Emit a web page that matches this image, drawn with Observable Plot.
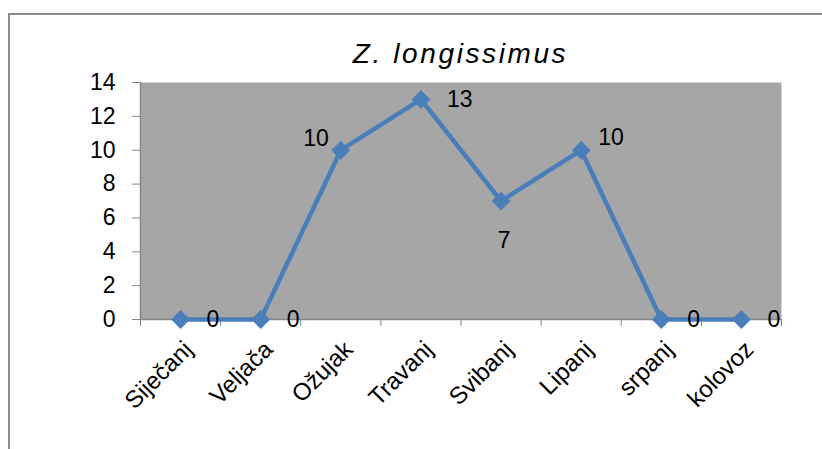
<!DOCTYPE html>
<html><head><meta charset="utf-8">
<script src="https://cdn.jsdelivr.net/npm/d3@7"></script>
<script src="https://cdn.jsdelivr.net/npm/@observablehq/plot@0.6"></script>
<style>
body{margin:0;background:#fff;}
#wrap{position:relative;width:822px;height:449px;overflow:hidden;background:#fff;}
#chart{position:absolute;left:0;top:0;}
#frame{position:absolute;left:8px;top:13px;width:900px;height:500px;border-top:2px solid #8c8c8c;border-left:2px solid #8c8c8c;pointer-events:none;}
#title{position:absolute;left:140px;width:641px;top:38px;line-height:28px;text-align:center;font:italic 28px "Liberation Sans",Arial,sans-serif;letter-spacing:2.6px;color:#000;}
</style></head><body>
<div id="wrap"><div id="chart"></div><div id="frame"></div><div id="title">Z. longissimus</div></div>
<script>
const months = ["Siječanj","Veljača","Ožujak","Travanj","Svibanj","Lipanj","srpanj","kolovoz"];
const counts = [0, 0, 10, 13, 7, 10, 0, 0];
const yTicks = [0, 2, 4, 6, 8, 10, 12, 14];

const data = months.map((m, i) => ({month: m, pos: i + 0.5, count: counts[i]}));
const blue = "#4a7ebb";
const axisGrey = "#868686";

const chart = Plot.plot({
  width: 822, height: 449,
  marginLeft: 140, marginRight: 41, marginTop: 82, marginBottom: 130,
  style: {background: "transparent", fontFamily: '"Liberation Sans", Arial, sans-serif', fontSize: "23px", color: "#000", overflow: "visible"},
  x: {type: "linear", domain: [0, months.length]},
  y: {domain: [0, 14]},
  marks: [
    Plot.frame({fill: "#a6a6a6", stroke: null}),
    Plot.ruleY([0], {stroke: axisGrey, strokeWidth: 1.5}),
    Plot.ruleX([0], {stroke: axisGrey, strokeWidth: 1.5}),
    Plot.axisY({ticks: yTicks, tickSize: 8, tickPadding: 17, stroke: axisGrey, fill: "#000", label: null, fontSize: 23}),
    Plot.axisX({ticks: d3.range(months.length + 1), tickSize: 7, tickFormat: () => "", stroke: axisGrey, label: null}),
    Plot.axisX({ticks: data.map(d => d.pos), tickSize: 0, tickPadding: 26, tickRotate: -45, dx: 8,
      tickFormat: v => months[Math.floor(v)], fill: "#000", label: null, fontSize: 24}),
    Plot.line(data, {x: "pos", y: "count", stroke: blue, strokeWidth: 4.5}),
    Plot.dot(data, {x: "pos", y: "count", symbol: "diamond2", r: 8.5, fill: blue, stroke: null}),
    Plot.text(data, {filter: d => d.count === 0 || d.month === "Travanj", x: "pos", y: "count", text: "count",
      textAnchor: "start", dx: 26, fill: "#000", fontSize: 23}),
    Plot.text(data, {filter: d => d.month === "Ožujak", x: "pos", y: "count", text: "count",
      textAnchor: "end", dx: -12, dy: -12, fill: "#000", fontSize: 23}),
    Plot.text(data, {filter: d => d.month === "Lipanj", x: "pos", y: "count", text: "count",
      textAnchor: "start", dx: 17, dy: -13, fill: "#000", fontSize: 23}),
    Plot.text(data, {filter: d => d.month === "Svibanj", x: "pos", y: "count", text: "count",
      textAnchor: "middle", dx: 3, dy: 40, fill: "#000", fontSize: 23})
  ]
});
document.getElementById("chart").appendChild(chart);
</script>
</body></html>
